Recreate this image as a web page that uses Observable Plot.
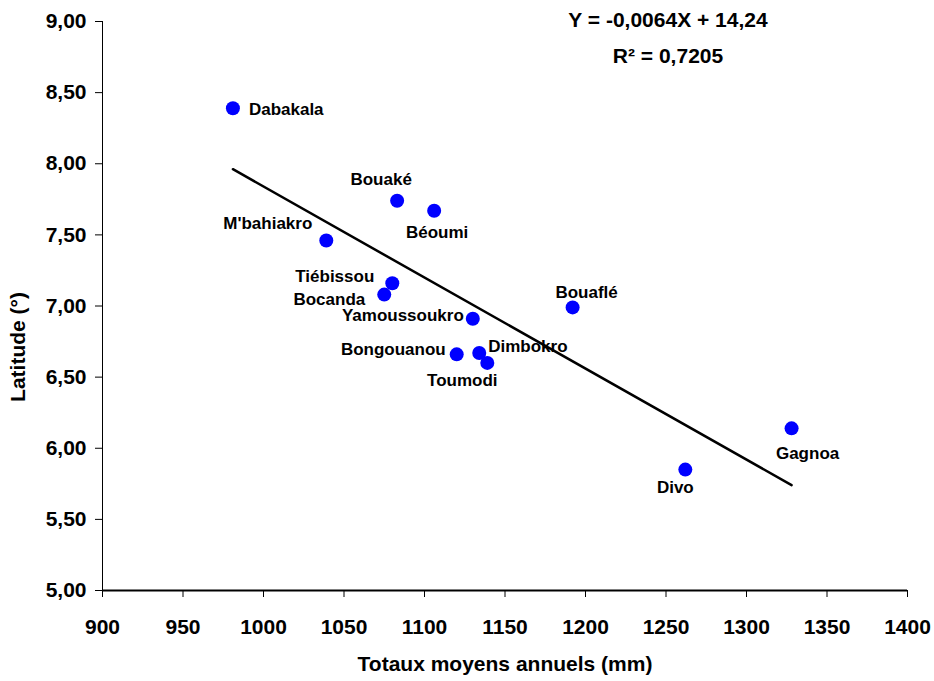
<!DOCTYPE html>
<html>
<head>
<meta charset="utf-8">
<script src="https://cdn.jsdelivr.net/npm/d3@7"></script>
<script src="https://cdn.jsdelivr.net/npm/@observablehq/plot@0.6"></script>
<style>
  html, body { margin: 0; padding: 0; background: #fff; }
  #chart svg { display: block; }
</style>
</head>
<body>
<div id="chart"></div>
<script>
// ---- data ----
const stations = ["Dabakala", "Bouaké", "Béoumi", "M'bahiakro", "Tiébissou", "Bocanda", "Yamoussoukro", "Bouaflé", "Bongouanou", "Dimbokro", "Toumodi", "Gagnoa", "Divo"];
const rainfall = [981, 1083, 1106, 1039, 1080, 1075, 1130, 1192, 1120, 1134, 1139, 1328, 1262];
const latitude = [8.39, 7.74, 7.67, 7.46, 7.16, 7.08, 6.91, 6.99, 6.66, 6.67, 6.60, 6.14, 5.85];
const xTicks = [900, 950, 1000, 1050, 1100, 1150, 1200, 1250, 1300, 1350, 1400];
const yTicks = [5, 5.5, 6, 6.5, 7, 7.5, 8, 8.5, 9];
const slope = -0.0064;
const intercept = 14.24;
const r2 = "0,7205";
const xTitle = "Totaux moyens annuels (mm)";
const yTitle = "Latitude (°)";

const points = stations.map((s, i) => ({name: s, x: rainfall[i], y: latitude[i]}));
const xMin = d3.min(rainfall), xMax = d3.max(rainfall);
const fit = [xMin, xMax].map(x => ({x, y: intercept + slope * x}));

// label placement (style)
const place = {
  "Dabakala": {dx: 16, dy: 1, a: "start"},
  "Bouaké": {dx: -16, dy: -21, a: "middle"},
  "Béoumi": {dx: 3, dy: 22, a: "middle"},
  "M'bahiakro": {dx: -14, dy: -17, a: "end"},
  "Tiébissou": {dx: -18, dy: -7, a: "end"},
  "Bocanda": {dx: -19, dy: 5, a: "end"},
  "Yamoussoukro": {dx: -9, dy: -3, a: "end"},
  "Bouaflé": {dx: 14, dy: -15, a: "middle"},
  "Bongouanou": {dx: -11, dy: -5, a: "end"},
  "Dimbokro": {dx: 9, dy: -6, a: "start"},
  "Toumodi": {dx: -25, dy: 18, a: "middle"},
  "Gagnoa": {dx: 16, dy: 25, a: "middle"},
  "Divo": {dx: -10, dy: 18, a: "middle"}
};

const font = "'Liberation Sans', Arial, Helvetica, sans-serif";
const comma = d => d.toFixed(2).replace(".", ",");

const labelMarks = points.map(p => Plot.text([p], {
  x: "x", y: "y", text: "name",
  dx: place[p.name].dx, dy: place[p.name].dy, textAnchor: place[p.name].a,
  fontSize: 17, fontWeight: "bold", fill: "#000"
}));

const chart = Plot.plot({
  width: 934,
  height: 681,
  marginLeft: 102,
  marginRight: 27,
  marginTop: 21,
  marginBottom: 91,
  style: {fontFamily: font, background: "#fff", color: "#000"},
  x: {domain: [900, 1400], axis: null},
  y: {domain: [5, 9], axis: null},
  marks: [
    Plot.axisY({ticks: yTicks, tickFormat: comma, tickSize: 7, tickPadding: 9, fontSize: 21, fontWeight: "bold", label: null, stroke: "#000"}),
    Plot.axisX({ticks: xTicks, tickFormat: d => String(d), tickSize: 7, tickPadding: 22, fontSize: 21, fontWeight: "bold", label: null, stroke: "#000"}),
    Plot.ruleX([900], {y1: 5, y2: 9, stroke: "#000", strokeWidth: 1}),
    Plot.ruleY([5], {x1: 900, x2: 1400, stroke: "#000", strokeWidth: 2}),
    Plot.line(fit, {x: "x", y: "y", stroke: "#000", strokeWidth: 2.5}),
    Plot.dot(points, {x: "x", y: "y", r: 7, fill: "#0000ff", stroke: "none"}),
    ...labelMarks,
    Plot.text([yTitle], {frameAnchor: "left", textAnchor: "middle", dx: -84, dy: 41, rotate: -90, fontSize: 21, fontWeight: "bold"}),
    Plot.text([xTitle], {frameAnchor: "bottom", dy: 80, fontSize: 21, fontWeight: "bold"}),
    Plot.text([`Y = ${slope.toString().replace(".", ",")}X + ${intercept.toString().replace(".", ",")}`], {frameAnchor: "top", dx: 163, dy: -9, fontSize: 21, fontWeight: "bold"}),
    Plot.text([`R² = ${r2}`], {frameAnchor: "top", dx: 163, dy: 27, fontSize: 21, fontWeight: "bold"})
  ]
});
document.getElementById("chart").appendChild(chart);
</script>
</body>
</html>
